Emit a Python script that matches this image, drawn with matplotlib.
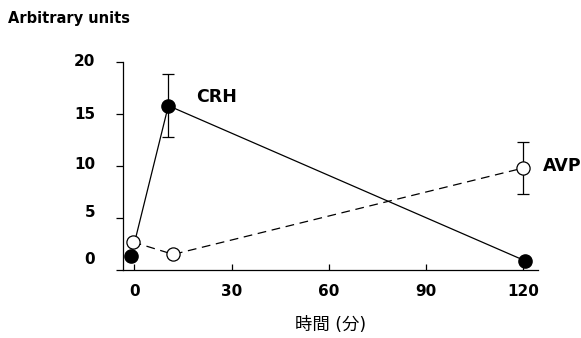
import matplotlib.pyplot as plt
from matplotlib.transforms import ScaledTranslation

# time (min) and values (arbitrary units)
crh_t = [-1, 10.5, 120.5]
crh_y = [1.3, 15.8, 0.9]
crh_err = [0, 3.0, 0]

avp_t = [-0.5, 12, 120]
avp_y = [2.7, 1.5, 9.8]
avp_err = [0, 0, 2.5]

xticks = [0, 30, 60, 90, 120]
yticks = [0, 5, 10, 15, 20]
# the scanned labels sit a little above their ticks (pixels)
ylab_shift = [12, 7, 3, 1, 2]

plt.rcParams['font.family'] = ['DejaVu Sans', 'Noto Sans CJK JP']

fig = plt.figure(figsize=(5.81, 3.38), dpi=100)
ax = fig.add_axes([0.2117, 0.2012, 0.926 - 0.2117, 0.8166 - 0.2012])

ax.errorbar(crh_t, crh_y, yerr=crh_err, color='black', lw=0.9,
            marker='o', ms=9.5, mfc='black', mec='black', ecolor='black',
            elinewidth=0.9, capsize=4, capthick=0.9, clip_on=False, zorder=3)
ax.errorbar(avp_t, avp_y, yerr=avp_err, color='black', lw=0.9, ls=(0, (7, 4.5)),
            marker='o', ms=9.5, mfc='white', mec='black', mew=0.9, ecolor='black',
            elinewidth=0.9, capsize=4, capthick=0.9, clip_on=False, zorder=3)

ax.set_xlim(-3.5, 124.6)
ax.set_ylim(0, 20)
ax.spines['top'].set_visible(False)
ax.spines['right'].set_visible(False)
ax.spines['left'].set_linewidth(0.9)
ax.spines['bottom'].set_linewidth(0.9)

ax.set_xticks(xticks)
ax.set_yticks(yticks)
ax.tick_params(axis='x', direction='in', length=4, width=0.9, pad=10, labelsize=11)
ax.tick_params(axis='y', direction='out', length=5, width=0.9, pad=15, labelsize=11)
for lab in ax.get_xticklabels() + ax.get_yticklabels():
    lab.set_fontweight('bold')
for lab, dy in zip(ax.get_yticklabels(), ylab_shift):
    lab.set_transform(lab.get_transform() + ScaledTranslation(0, dy / 100, fig.dpi_scale_trans))

ax.set_xlabel('時間 (分)', fontsize=12.5, labelpad=12)
fig.text(0.014, 0.945, 'Arbitrary units', fontsize=10.5, fontweight='bold', va='center')
ax.text(19, 16.6, 'CRH', fontsize=12.5, fontweight='bold', va='center')
ax.text(126, 10.0, 'AVP', fontsize=12.5, fontweight='bold', va='center', clip_on=False)

fig.savefig('out.png', dpi=100)
